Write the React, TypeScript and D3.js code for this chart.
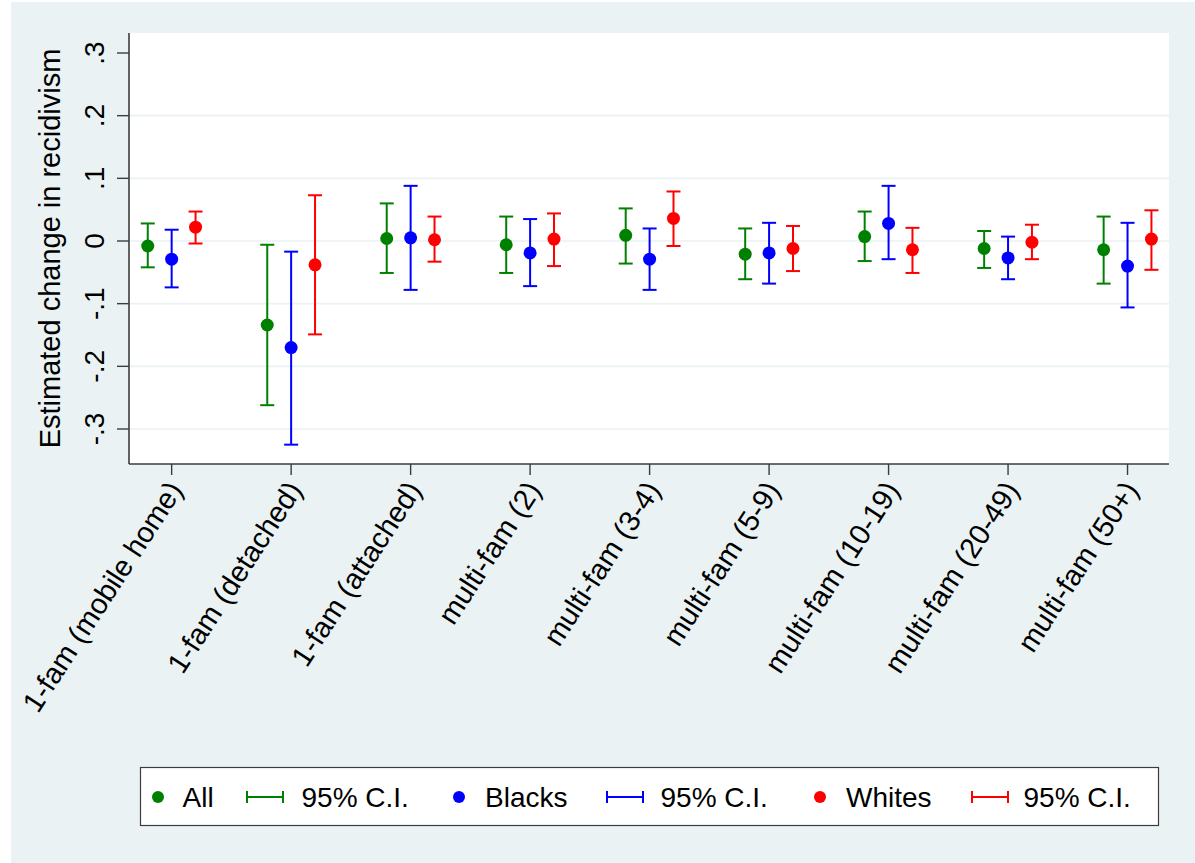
import React from "react";
import * as d3 from "d3";

const categories = [
  "1-fam (mobile home)",
  "1-fam (detached)",
  "1-fam (attached)",
  "multi-fam (2)",
  "multi-fam (3-4)",
  "multi-fam (5-9)",
  "multi-fam (10-19)",
  "multi-fam (20-49)",
  "multi-fam (50+)",
];

// point estimates and 95% confidence bounds
const allEst = [-0.008, -0.134, 0.004, -0.006, 0.009, -0.021, 0.007, -0.012, -0.014];
const allLo = [-0.042, -0.262, -0.051, -0.051, -0.036, -0.061, -0.032, -0.043, -0.068];
const allHi = [0.028, -0.006, 0.060, 0.039, 0.052, 0.020, 0.047, 0.016, 0.039];

const blackEst = [-0.029, -0.170, 0.005, -0.019, -0.029, -0.019, 0.028, -0.027, -0.040];
const blackLo = [-0.074, -0.325, -0.078, -0.072, -0.078, -0.068, -0.029, -0.061, -0.106];
const blackHi = [0.018, -0.017, 0.088, 0.035, 0.020, 0.029, 0.088, 0.007, 0.029];

const whiteEst = [0.022, -0.038, 0.002, 0.003, 0.036, -0.012, -0.014, -0.002, 0.003];
const whiteLo = [-0.004, -0.149, -0.033, -0.040, -0.008, -0.048, -0.051, -0.029, -0.046];
const whiteHi = [0.047, 0.073, 0.039, 0.044, 0.079, 0.024, 0.021, 0.026, 0.049];

const yTicks = [0.3, 0.2, 0.1, 0, -0.1, -0.2, -0.3];
const yTickLabels = [".3", ".2", ".1", "0", "-.1", "-.2", "-.3"];

const seriesNames = ["All", "Blacks", "Whites"];
const ciLabel = "95% C.I.";
const yTitle = "Estimated change in recidivism";

const series = [
  { name: seriesNames[0], color: "#008000", est: allEst, lo: allLo, hi: allHi, off: -0.2 },
  { name: seriesNames[1], color: "#0000ff", est: blackEst, lo: blackLo, hi: blackHi, off: 0 },
  { name: seriesNames[2], color: "#ff0000", est: whiteEst, lo: whiteLo, hi: whiteHi, off: 0.2 },
];

const W = 1195;
const H = 863;
const BG = "#EAF2F3";
const FONT = "'Liberation Sans', Arial, sans-serif";

export default function App() {
  const plotL = 129, plotR = 1169, plotT = 33, plotB = 464;
  const x = d3.scaleLinear().domain([0.643, 9.347]).range([plotL, plotR]);
  const y = d3.scaleLinear().domain([-0.3, 0.3]).range([429, 53]);
  const capW = 7;

  const legendItems = [
    { type: "dot", color: series[0].color, label: seriesNames[0], mx: 158, tx: 182.5 },
    { type: "ci", color: series[0].color, label: ciLabel, mx: 265, tx: 301.5 },
    { type: "dot", color: series[1].color, label: seriesNames[1], mx: 459, tx: 485 },
    { type: "ci", color: series[1].color, label: ciLabel, mx: 625, tx: 660.5 },
    { type: "dot", color: series[2].color, label: seriesNames[2], mx: 820, tx: 846 },
    { type: "ci", color: series[2].color, label: ciLabel, mx: 990, tx: 1023.5 },
  ];

  return (
    <svg
      width={W}
      height={H}
      style={{ position: "absolute", left: 0, top: 0, display: "block" }}
      fontFamily={FONT}
    >
      <rect x={0} y={0} width={W} height={H} fill="#ffffff" />
      <rect x={11} y={2} width={W - 11} height={H - 2} fill={BG} />
      <rect x={plotL} y={plotT} width={plotR - plotL} height={plotB - plotT} fill="#ffffff" />

      {/* gridlines */}
      {yTicks.map((t) =>
        t === 0.3 ? null : (
          <line key={"g" + t} x1={plotL} x2={plotR} y1={y(t)} y2={y(t)} stroke={BG} strokeWidth={1.6} />
        )
      )}

      {/* y axis */}
      <line x1={plotL} x2={plotL} y1={plotT} y2={plotB} stroke="#3c3c3c" strokeWidth={1.6} />
      {yTicks.map((t, i) => (
        <g key={"yt" + i}>
          <line x1={plotL - 12} x2={plotL} y1={y(t)} y2={y(t)} stroke="#3c3c3c" strokeWidth={1.4} />
          <text
            transform={`translate(103.5,${y(t)}) rotate(-90)`}
            textAnchor="middle"
            fontSize={28}
            fill="#000"
          >
            {yTickLabels[i]}
          </text>
        </g>
      ))}
      <text
        transform={`translate(60,${(plotT + plotB) / 2}) rotate(-90)`}
        textAnchor="middle"
        fontSize={29}
        fill="#000"
      >
        {yTitle}
      </text>

      {/* x axis */}
      <line x1={plotL} x2={plotR} y1={plotB} y2={plotB} stroke="#3c3c3c" strokeWidth={1.6} />
      {categories.map((c, i) => (
        <g key={"xt" + i}>
          <line x1={x(i + 1)} x2={x(i + 1)} y1={plotB} y2={plotB + 11} stroke="#3c3c3c" strokeWidth={1.4} />
          <text
            transform={`translate(${x(i + 1) + 12},490) rotate(-57)`}
            textAnchor="end"
            fontSize={29}
            fill="#000"
          >
            {c}
          </text>
        </g>
      ))}

      {/* error bars and points */}
      {series.map((s) => (
        <g key={s.name}>
          {s.est.map((v, i) => {
            const cx = x(i + 1 + s.off);
            return (
              <g key={i}>
                <line x1={cx} x2={cx} y1={y(s.lo[i])} y2={y(s.hi[i])} stroke={s.color} strokeWidth={2} />
                <line x1={cx - capW} x2={cx + capW} y1={y(s.lo[i])} y2={y(s.lo[i])} stroke={s.color} strokeWidth={2} />
                <line x1={cx - capW} x2={cx + capW} y1={y(s.hi[i])} y2={y(s.hi[i])} stroke={s.color} strokeWidth={2} />
                <circle cx={cx} cy={y(v)} r={6.5} fill={s.color} />
              </g>
            );
          })}
        </g>
      ))}

      {/* legend */}
      <rect x={140.5} y={767.5} width={1018} height={58} fill="#ffffff" stroke="#3c3c3c" strokeWidth={1.2} />
      {legendItems.map((it, i) => (
        <g key={"lg" + i}>
          {it.type === "dot" ? (
            <circle cx={it.mx} cy={797} r={6} fill={it.color} />
          ) : (
            <g stroke={it.color} strokeWidth={2}>
              <line x1={it.mx - 18} x2={it.mx + 18} y1={797} y2={797} />
              <line x1={it.mx - 18} x2={it.mx - 18} y1={791} y2={803} />
              <line x1={it.mx + 18} x2={it.mx + 18} y1={791} y2={803} />
            </g>
          )}
          <text x={it.tx} y={807} fontSize={28} fill="#000">
            {it.label}
          </text>
        </g>
      ))}
    </svg>
  );
}
